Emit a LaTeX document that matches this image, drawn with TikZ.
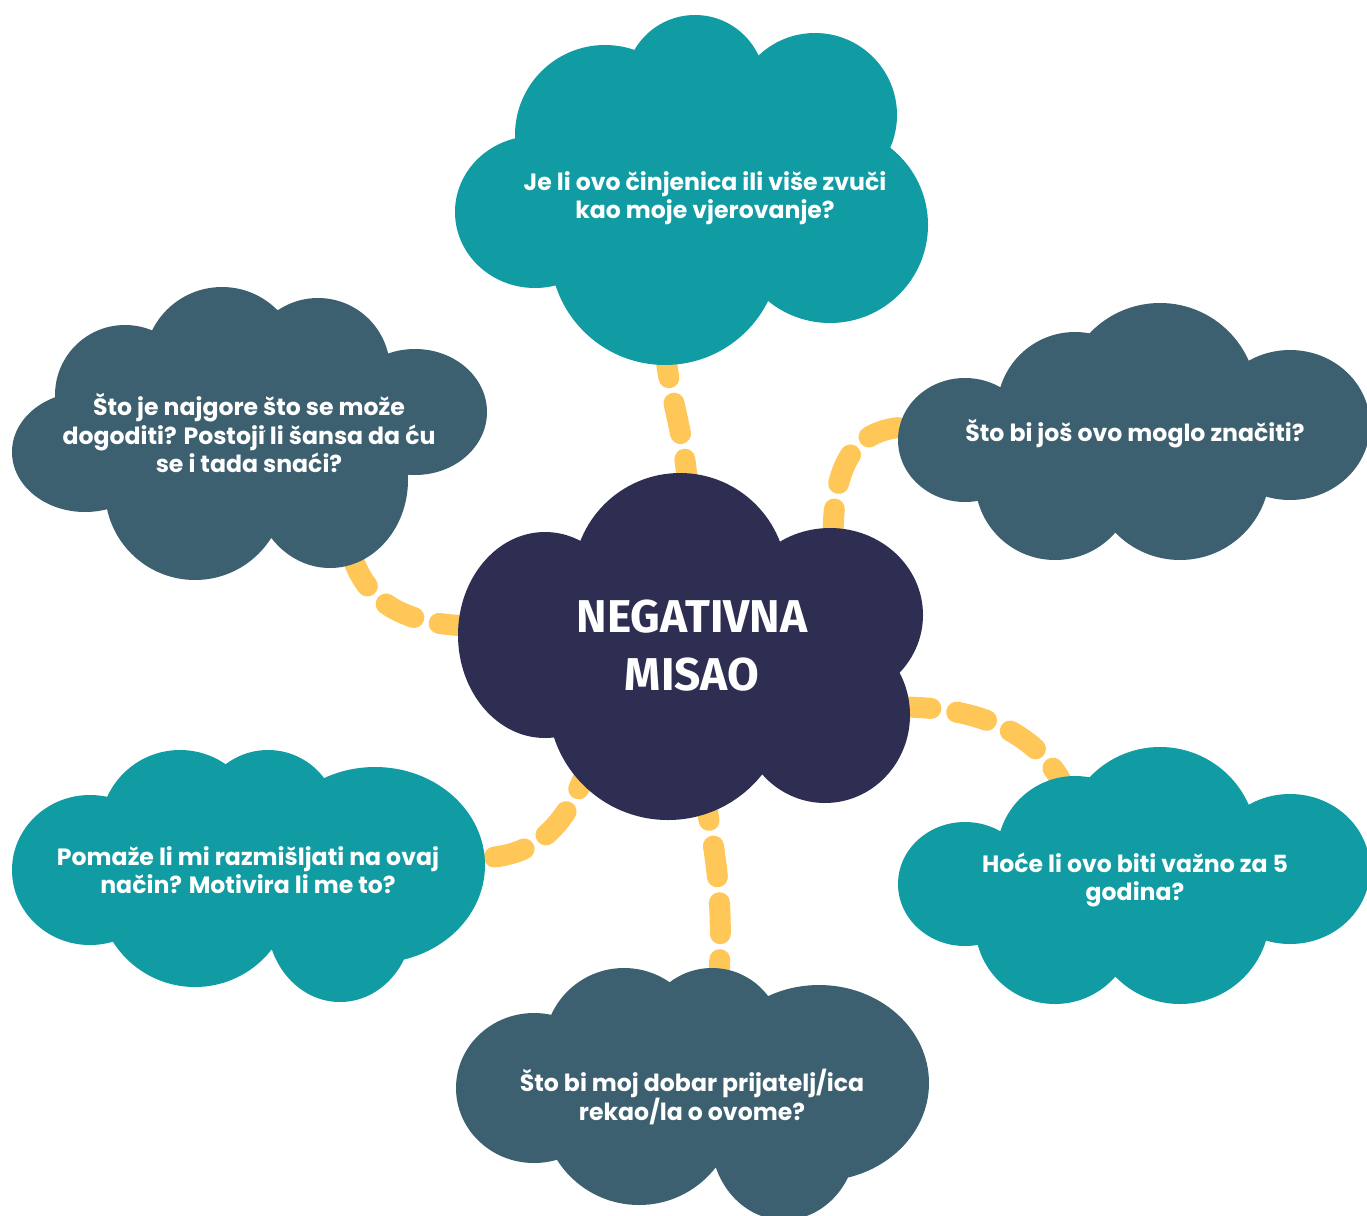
\documentclass[tikz,border=0pt]{standalone}
\usepackage{fontspec}
\newfontfamily\qfont{Poppins}
\newfontfamily\tfont{Fira Sans}
\definecolor{cTeal}{RGB}{17,156,164}
\definecolor{cSlate}{RGB}{61,96,112}
\definecolor{cNavy}{RGB}{46,46,82}
\definecolor{cYellow}{RGB}{255,198,88}
\newcommand\shapeEast{%
  (965,440) ellipse [x radius=67pt, y radius=62pt]
  (1075,410) circle [radius=78pt]
  (1160,400) circle [radius=97pt]
  (1290,425) ellipse [x radius=80pt, y radius=75pt]
  (1180,470) circle [radius=90pt]
  (1055,480) circle [radius=80pt]}
\newcommand\shapeWest{%
  (90,870) ellipse [x radius=78pt, y radius=75pt]
  (180,830) circle [radius=80pt]
  (268,820) circle [radius=70pt]
  (375,865) ellipse [x radius=110pt, y radius=98pt]
  (340,920) ellipse [x radius=73pt, y radius=82pt]
  (195,890) circle [radius=97pt]}
\tikzset{
  conn/.style={draw=cYellow, line width=21pt, line cap=round, dash pattern=on 31pt off 26pt},
  qtext/.style={text=white, font=\qfont\bfseries\fontsize{23.6}{28.5}\selectfont, align=center, inner sep=0pt},
  ttext/.style={text=white, font=\tfont\bfseries\fontsize{46}{58}\selectfont, align=center, inner sep=0pt},
}
\begin{document}
\begin{tikzpicture}[x=1pt,y=-1pt]
\useasboundingbox (0,0) rectangle (1367,1215);
% connector end points
\coordinate (neg-n) at (688,490);
\coordinate (q1-s) at (665,350);
\coordinate (neg-ne) at (833,540);
\coordinate (q3-w) at (905,427);
\coordinate (neg-w) at (470,626);
\coordinate (q2-s) at (348,540);
\coordinate (neg-sw) at (590,760);
\coordinate (q4-e) at (478,858);
\coordinate (neg-s) at (703,790);
\coordinate (q5-n) at (719,975);
\coordinate (neg-se) at (900,707);
\coordinate (q6-nw) at (1068,795);
% connectors
\draw[conn] (neg-n) .. controls (684,430) and (670,400) .. (q1-s);
\draw[conn] (neg-ne) .. controls (833,470) and (850,430) .. (q3-w);
\draw[conn] (neg-w) .. controls (400,624) and (360,600) .. (q2-s);
\draw[conn] (neg-sw) .. controls (570,820) and (540,858) .. (q4-e);
\draw[conn] (neg-s) .. controls (718,860) and (723,910) .. (q5-n);
\draw[conn] (neg-se) .. controls (990,707) and (1045,740) .. (q6-nw);
% clouds
\fill[cTeal] (535,212) ellipse [x radius=80pt, y radius=76pt]
  (605,135) circle [radius=90pt]
  (695,85) circle [radius=70pt]
  (815,115) circle [radius=82pt]
  (830,225) circle [radius=98pt]
  (730,175) circle [radius=85pt]
  (665,250) circle [radius=115pt];
\fill[cSlate] (85,452) ellipse [x radius=73pt, y radius=60pt]
  (125,395) circle [radius=70pt]
  (222,365) circle [radius=78pt]
  (318,370) circle [radius=72pt]
  (415,412) ellipse [x radius=72pt, y radius=63pt]
  (330,480) ellipse [x radius=78pt, y radius=88pt]
  (195,490) circle [radius=90pt];
\fill[cSlate] \shapeEast;
\begin{scope}[shift={(0,444)}]
\fill[cTeal] \shapeEast;
\end{scope}
\fill[cTeal] \shapeWest;
\begin{scope}[shift={(444,218)}]
\fill[cSlate] \shapeWest;
\end{scope}
\fill[cNavy] (545,635) ellipse [x radius=87pt, y radius=103pt]
  (680,580) circle [radius=107pt]
  (830,615) ellipse [x radius=93pt, y radius=87pt]
  (825,715) ellipse [x radius=85pt, y radius=88pt]
  (668,700) circle [radius=120pt];
% texts
\node[ttext] (neg) at (692,646) {NEGATIVNA\\MISAO};
\node[qtext] (q1) at (705,198) {Je li ovo činjenica ili više zvuči\\kao moje vjerovanje?};
\node[qtext] (q2) at (249,433) {Što je najgore što se može\\dogoditi? Postoji li šansa da ću\\se i tada snaći?};
\node[qtext] (q3) at (1135,434) {Što bi još ovo moglo značiti?};
\node[qtext] (q4) at (248,870) {Pomaže li mi razmišljati na ovaj\\način? Motivira li me to?};
\node[qtext] (q5) at (692,1097) {Što bi moj dobar prijatelj/ica\\rekao/la o ovome?};
\node[qtext] (q6) at (1135,880) {Hoće li ovo biti važno za 5\\godina?};
\end{tikzpicture}
\end{document}
